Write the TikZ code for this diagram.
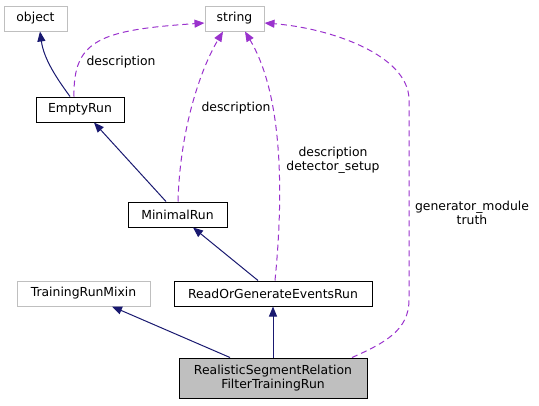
\documentclass[tikz,border=0pt]{standalone}
\usepackage{fontspec}
\setmainfont{DejaVu Sans}
\usetikzlibrary{arrows.meta}
\definecolor{navy}{HTML}{191970}
\definecolor{dpurple}{HTML}{9A32CD}
\definecolor{lgray}{HTML}{BFBFBF}
\begin{document}
\begin{tikzpicture}[x=1pt,y=-1pt,
  every node/.style={font=\fontsize{12.4}{14.3}\selectfont, inner sep=0pt, align=center},
  cls/.style={draw=black, line width=1pt, fill=white, minimum height=25pt},
  ext/.style={draw=lgray, line width=1pt, fill=white, minimum height=25pt},
  inh/.style={draw=navy, line width=1pt, -{Triangle[length=10pt,width=8pt]}},
  use/.style={draw=dpurple, line width=1pt, dash pattern=on 6pt off 4pt, -{Triangle[length=10pt,width=8pt]}},
  lbl/.style={font=\fontsize{12.4}{14.3}\selectfont}]
\useasboundingbox (0,0) rectangle (539,405);
\node[ext, minimum width=63pt] (object) at (35.5,18.5) {object};
\node[ext, minimum width=59pt] (string) at (234.5,18.5) {string};
\node[cls, minimum width=88pt] (emptyrun) at (80,109.5) {EmptyRun};
\node[cls, minimum width=99pt] (minimalrun) at (177.5,214.5) {MinimalRun};
\node[ext, minimum width=133pt] (trm) at (83.5,293.5) {TrainingRunMixin};
\node[cls, minimum width=198pt] (rog) at (273,293.5) {ReadOrGenerateEventsRun};
\node[cls, fill=lgray, minimum width=188pt, minimum height=40pt] (real) at (273,378) {RealisticSegmentRelation\\FilterTrainingRun};
% inheritance
\draw[inh] ([xshift=-10pt]emptyrun.north) .. controls (58,80) and (44,60) .. ([xshift=4.5pt]object.south);
\draw[inh] ([xshift=-11.5pt]minimalrun.north) -- ([xshift=14pt]emptyrun.south);
\draw[inh] ([xshift=-15pt]rog.north) -- ([xshift=15.5pt]minimalrun.south);
\draw[inh] ([xshift=-43pt]real.north) -- ([xshift=28.5pt]trm.south);
\draw[inh] (real.north) -- (rog.south);
% usage
\draw[use] ([xshift=-6pt]emptyrun.north) .. controls (73,40) and (100,30) .. ([yshift=-4.5pt]string.west);
\node[lbl] (l1) at (121,62) {description};
\draw[use] ([xshift=0.5pt]minimalrun.north) .. controls (180,130) and (200,70) .. ([xshift=-11.5pt]string.south);
\node[lbl] (l2) at (236,108) {description};
\draw[use] ([xshift=2pt]rog.north) .. controls (285,180) and (280,90) .. ([xshift=10.5pt]string.south);
\node[lbl] (l3) at (333,160) {description\\detector\_setup};
\coordinate (c1) at (409,300);
\coordinate (c2) at (409,100);
\draw[use] ([xshift=79pt]real.north) .. controls (385,343) and (409,330) .. (c1) -- (c2) .. controls (409,55) and (330,28) .. ([yshift=-4.5pt]string.east);
\node[lbl] (l4) at (472,213) {generator\_module\\truth};
\end{tikzpicture}
\end{document}
